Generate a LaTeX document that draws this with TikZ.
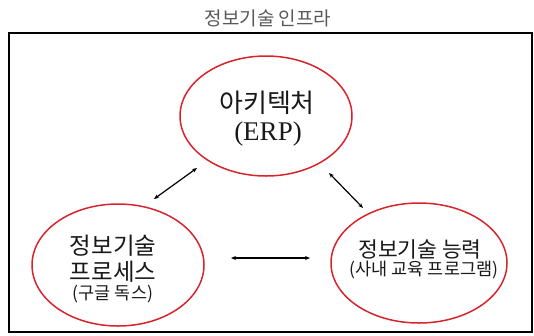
\documentclass[tikz,border=0pt]{standalone}
\usepackage{fontspec}
\setmainfont{Liberation Serif}
\newfontfamily\kr{Noto Sans CJK KR}
\usetikzlibrary{shapes.geometric,arrows.meta}
\definecolor{ringred}{HTML}{D9232B}
\tikzset{
  ring/.style={ellipse, draw=ringred, line width=1.5pt, inner sep=0pt},
  label/.style={inner sep=0pt, anchor=center, text=black!90},
  link/.style={line width=1.2pt, {Stealth[length=5pt,width=4pt]}-{Stealth[length=5pt,width=4pt]}},
}
\begin{document}
\begin{tikzpicture}[x=1pt, y=-1pt]
  \useasboundingbox (0,0) rectangle (534,335);
  % title and outer frame
  \node[label, text=black!65] (title) at (268,18) {\kr\fontsize{19}{22}\selectfont 정보기술 인프라};
  \draw[line width=2pt] (9,33) rectangle (532,332);

  % the three areas
  \node[ring, minimum width=172pt, minimum height=120pt] (arch) at (266,116) {};
  \node[ring, minimum width=172pt, minimum height=122pt] (proc) at (118,265) {};
  \node[ring, minimum width=176pt, minimum height=120pt] (skill) at (419,263) {};

  % labels
  \node[label] (archA) at (267,103) {\kr\fontsize{26}{28}\selectfont 아키텍처};
  \node[label] (archB) at (268,134) {\fontsize{27}{29}\selectfont (ERP)};
  \node[label] (procA) at (113,246) {\kr\fontsize{23.5}{26}\selectfont 정보기술};
  \node[label] (procB) at (113,272) {\kr\fontsize{23.5}{26}\selectfont 프로세스};
  \node[label] (procC) at (113,294) {\kr\fontsize{17.5}{19}\selectfont (구글 독스)};
  \node[label] (skillA) at (420,249) {\kr\fontsize{21.5}{24}\selectfont 정보기술 능력};
  \node[label] (skillB) at (424,270) {\kr\fontsize{17.5}{19}\selectfont (사내 교육 프로그램)};

  % connectors
  \coordinate (a1) at (154,199);
  \coordinate (a2) at (197,168);
  \coordinate (b1) at (329,173);
  \coordinate (b2) at (363,208);
  \coordinate (c1) at (231,258);
  \coordinate (c2) at (310,258);
  \draw[link] (a1) -- (a2);
  \draw[link] (b1) -- (b2);
  \draw[link] (c1) -- (c2);
\end{tikzpicture}
\end{document}
